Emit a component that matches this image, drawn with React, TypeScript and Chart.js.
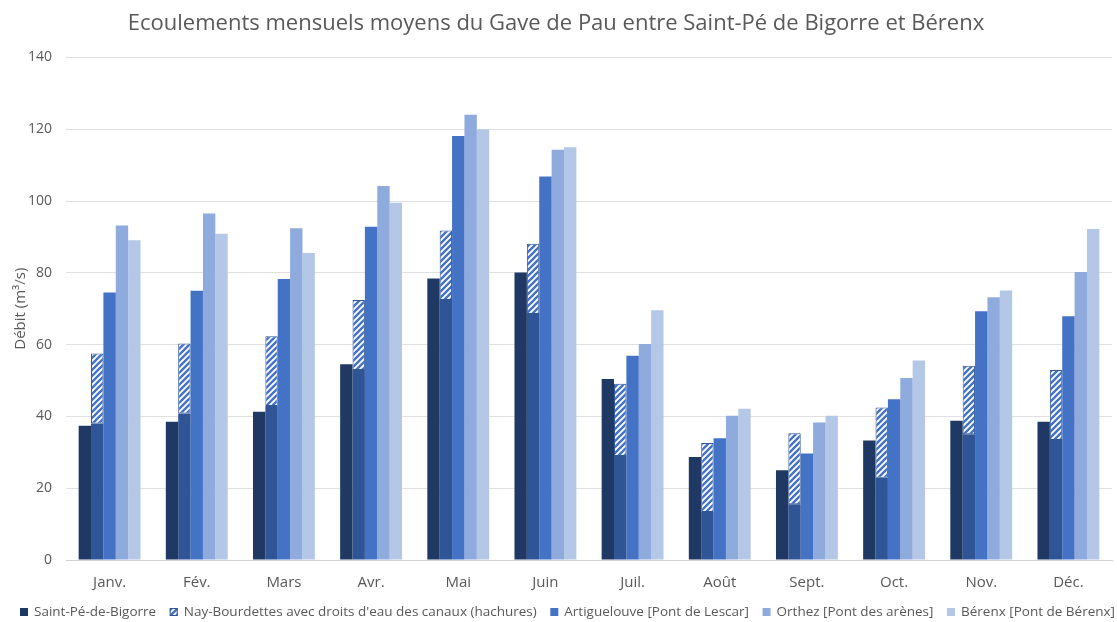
import React, { useEffect, useRef } from "react";
import { Chart, registerables } from "chart.js";

Chart.register(...registerables);

const months = ["Janv.", "Fév.", "Mars", "Avr.", "Mai", "Juin", "Juil.", "Août", "Sept.", "Oct.", "Nov.", "Déc."];
const saintPe = [37.4, 38.5, 41.3, 54.5, 78.4, 80.1, 50.4, 28.7, 25.0, 33.3, 38.8, 38.5];
const nayBase = [38.0, 40.8, 42.9, 52.9, 72.4, 68.5, 29.0, 13.4, 15.5, 22.9, 35.0, 33.4];
const nayTotal = [57.5, 60.3, 62.3, 72.4, 91.8, 88.1, 49.1, 32.6, 35.3, 42.5, 54.1, 52.9];
const artiguelouve = [74.5, 75.0, 78.3, 92.8, 118.1, 106.8, 56.9, 33.9, 29.7, 44.8, 69.3, 67.9];
const orthez = [93.2, 96.5, 92.4, 104.2, 124.0, 114.3, 60.2, 40.2, 38.3, 50.7, 73.2, 80.2];
const berenx = [89.1, 90.9, 85.5, 99.5, 120.0, 115.0, 69.6, 42.1, 40.2, 55.6, 75.1, 92.2];

const labels = [
  "Saint-Pé-de-Bigorre",
  "Nay-Bourdettes avec droits d'eau des canaux (hachures)",
  "Artiguelouve [Pont de Lescar]",
  "Orthez [Pont des arènes]",
  "Bérenx [Pont de Bérenx]",
];

const TEXT = "#595959";
const FONT = "'Open Sans', 'DejaVu Sans', sans-serif";

function makeHatch(): CanvasPattern | string {
  const s = 6;
  const c = document.createElement("canvas");
  c.width = s;
  c.height = s;
  const ctx = c.getContext("2d");
  if (!ctx) return "#ffffff";
  ctx.fillStyle = "#ffffff";
  ctx.fillRect(0, 0, s, s);
  ctx.strokeStyle = "#4472C4";
  ctx.lineWidth = 2.4;
  ctx.beginPath();
  ctx.moveTo(0, s);
  ctx.lineTo(s, 0);
  ctx.moveTo(-s / 2, s / 2);
  ctx.lineTo(s / 2, -s / 2);
  ctx.moveTo(s / 2, s * 1.5);
  ctx.lineTo(s * 1.5, s / 2);
  ctx.stroke();
  const p = ctx.createPattern(c, "repeat");
  return p || "#ffffff";
}

// Legend drawn in one row, spread like the reference (x 20..1115, centre y 612)
const bottomLegend = {
  id: "bottomLegend",
  afterDraw(chart: any) {
    const ctx = chart.ctx as CanvasRenderingContext2D;
    const items = chart.data.datasets
      .filter((d: any) => d.label !== "nayBase")
      .map((d: any) => ({ text: d.label as string, fill: d.backgroundColor, border: d.borderWidth ? d.borderColor : null }));
    ctx.save();
    ctx.font = `13.5px ${FONT}`;
    const box = 8;
    const gapBox = 6;
    const widths = items.map((it: any) => box + gapBox + ctx.measureText(it.text).width);
    const total = widths.reduce((a: number, b: number) => a + b, 0);
    const left = 20;
    const right = 1115;
    const spacing = Math.max(8, (right - left - total) / (items.length - 1));
    let x = left;
    const y = 612;
    ctx.textBaseline = "middle";
    ctx.textAlign = "left";
    items.forEach((it: any, i: number) => {
      ctx.fillStyle = it.fill;
      ctx.fillRect(x, y - box / 2, box, box);
      if (it.border) {
        ctx.strokeStyle = it.border;
        ctx.lineWidth = 1;
        ctx.strokeRect(x + 0.5, y - box / 2 + 0.5, box - 1, box - 1);
      }
      ctx.fillStyle = TEXT;
      ctx.fillText(it.text, x + box + gapBox, y + 0.5);
      x += widths[i] + spacing;
    });
    ctx.restore();
  },
};

export default function App() {
  const ref = useRef<HTMLCanvasElement>(null);
  useEffect(() => {
    document.body.style.margin = "0";
    if (!ref.current) return;
    const hatch = makeHatch();
    const nayHatched = nayTotal.map((t, i) => +(t - nayBase[i]).toFixed(2));
    const chart = new Chart(ref.current, {
      type: "bar",
      data: {
        labels: months,
        datasets: [
          { label: labels[0], data: saintPe, backgroundColor: "#203864", stack: "s1", borderWidth: 0 },
          { label: "nayBase", data: nayBase, backgroundColor: "#2F5597", stack: "s2", borderWidth: 0 },
          {
            label: labels[1],
            data: nayHatched,
            backgroundColor: hatch as any,
            borderColor: "#2F5597",
            borderWidth: 1,
            borderSkipped: false,
            stack: "s2",
          },
          { label: labels[2], data: artiguelouve, backgroundColor: "#4472C4", stack: "s3", borderWidth: 0 },
          { label: labels[3], data: orthez, backgroundColor: "#8FAADC", stack: "s4", borderWidth: 0 },
          { label: labels[4], data: berenx, backgroundColor: "#B4C7E7", stack: "s5", borderWidth: 0 },
        ],
      },
      plugins: [bottomLegend],
      options: {
        animation: false,
        responsive: false,
        maintainAspectRatio: false,
        layout: { padding: { left: 0, right: 5, top: 8, bottom: 16 } },
        datasets: { bar: { categoryPercentage: 0.71, barPercentage: 1.0 } },
        plugins: {
          title: {
            display: true,
            text: "Ecoulements mensuels moyens du Gave de Pau entre Saint-Pé de Bigorre et Bérenx",
            color: TEXT,
            font: { family: FONT, size: 22, weight: "normal" },
            padding: { top: 3, bottom: 20 },
          },
          legend: { display: false },
          tooltip: { enabled: false },
        },
        scales: {
          x: {
            stacked: true,
            grid: { display: false, drawTicks: false },
            border: { display: true, color: "#d0d0d0" },
            ticks: { color: TEXT, font: { family: FONT, size: 15 }, padding: 14 },
          },
          y: {
            stacked: true,
            min: 0,
            max: 140,
            ticks: { stepSize: 20, color: TEXT, font: { family: FONT, size: 14 }, padding: 14 },
            grid: { color: "#e0e0e0", drawTicks: false },
            border: { display: false },
            title: {
              display: true,
              text: "Débit (m³/s)",
              color: TEXT,
              font: { family: FONT, size: 15 },
              padding: { top: 11.5, bottom: -15.5 },
            },
          },
        },
      },
    });
    return () => chart.destroy();
  }, []);
  return (
    <div style={{ position: "absolute", left: 0, top: 0, width: 1117, height: 622, background: "#fff", overflow: "hidden" }}>
      <canvas ref={ref} width={1117} height={622} style={{ width: 1117, height: 622 }} />
    </div>
  );
}
